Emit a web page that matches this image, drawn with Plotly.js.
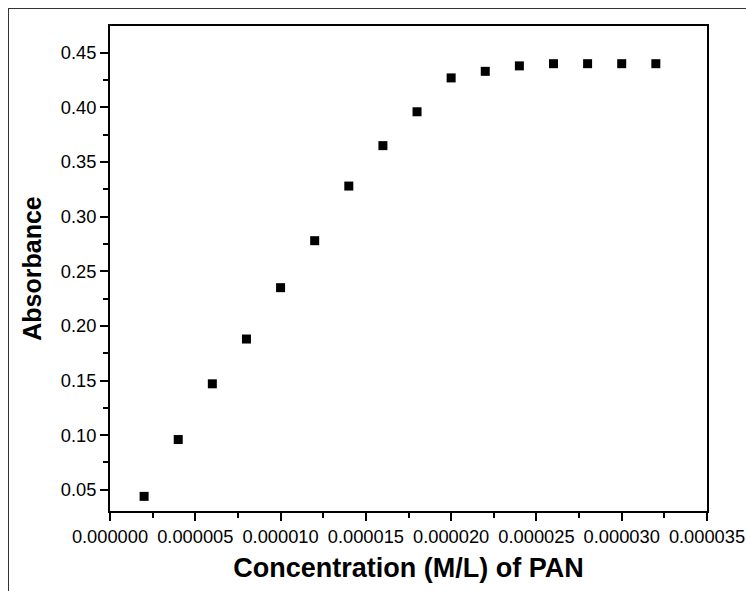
<!DOCTYPE html>
<html>
<head>
<meta charset="utf-8">
<script src="https://cdn.plot.ly/plotly-3.0.1.min.js"></script>
<style>
html,body{margin:0;padding:0;background:#fff;}
#wrap{position:relative;width:746px;height:591px;}
#chart{width:746px;height:591px;}
#frame{position:absolute;left:8px;top:8px;right:-2px;bottom:-2px;border-left:1px solid #333;border-top:1px solid #333;pointer-events:none;}
</style>
</head>
<body>
<div id="wrap"><div id="chart"></div><div id="frame"></div></div>
<script>
const concentration = [0.000002,0.000004,0.000006,0.000008,0.000010,0.000012,0.000014,0.000016,0.000018,0.000020,0.000022,0.000024,0.000026,0.000028,0.000030,0.000032];
const absorbance = [0.044,0.096,0.147,0.188,0.235,0.278,0.328,0.365,0.396,0.427,0.433,0.438,0.440,0.440,0.440,0.440];
const xTickVals = [0,0.000005,0.00001,0.000015,0.00002,0.000025,0.00003,0.000035];
const xTickText = ["0.000000","0.000005","0.000010","0.000015","0.000020","0.000025","0.000030","0.000035"];

const fontFam = 'Liberation Sans, Arial, sans-serif';
Plotly.newPlot('chart', [{
  x: concentration, y: absorbance, type: 'scatter', mode: 'markers',
  marker: {symbol: 'square', size: 9, color: '#000'}
}], {
  width: 746, height: 591,
  margin: {l: 110, r: 39, t: 26, b: 80},
  paper_bgcolor: '#fff', plot_bgcolor: '#fff',
  showlegend: false,
  font: {family: fontFam, color: '#000'},
  xaxis: {
    range: [0, 0.000035], tickvals: xTickVals, ticktext: xTickText,
    ticks: 'outside', ticklen: 8, tickwidth: 2, tickcolor: '#000',
    showline: true, linecolor: '#000', linewidth: 2, mirror: true,
    showgrid: false, zeroline: false, tickangle: 0, ticklabeloverflow: 'allow',
    tickfont: {size: 18.3, family: fontFam},
    minor: {ticks: 'outside', ticklen: 5, tickwidth: 2, tickcolor: '#000', dtick: 0.0000025, tick0: 0},
    title: {text: '<b>Concentration (M/L) of PAN</b>', font: {size: 27, family: fontFam}, standoff: 12}
  },
  yaxis: {
    range: [0.0306, 0.4745], dtick: 0.05, tick0: 0, tickformat: '.2f',
    ticks: 'outside', ticklen: 8, tickwidth: 2, tickcolor: '#000',
    showline: true, linecolor: '#000', linewidth: 2, mirror: true,
    showgrid: false, zeroline: false,
    tickfont: {size: 18.3, family: fontFam},
    minor: {ticks: 'outside', ticklen: 5, tickwidth: 2, tickcolor: '#000', dtick: 0.025, tick0: 0},
    title: {text: '<b>Absorbance</b>', font: {size: 25, family: fontFam}, standoff: 12}
  }
}, {displayModeBar: false, staticPlot: true});
</script>
</body>
</html>
